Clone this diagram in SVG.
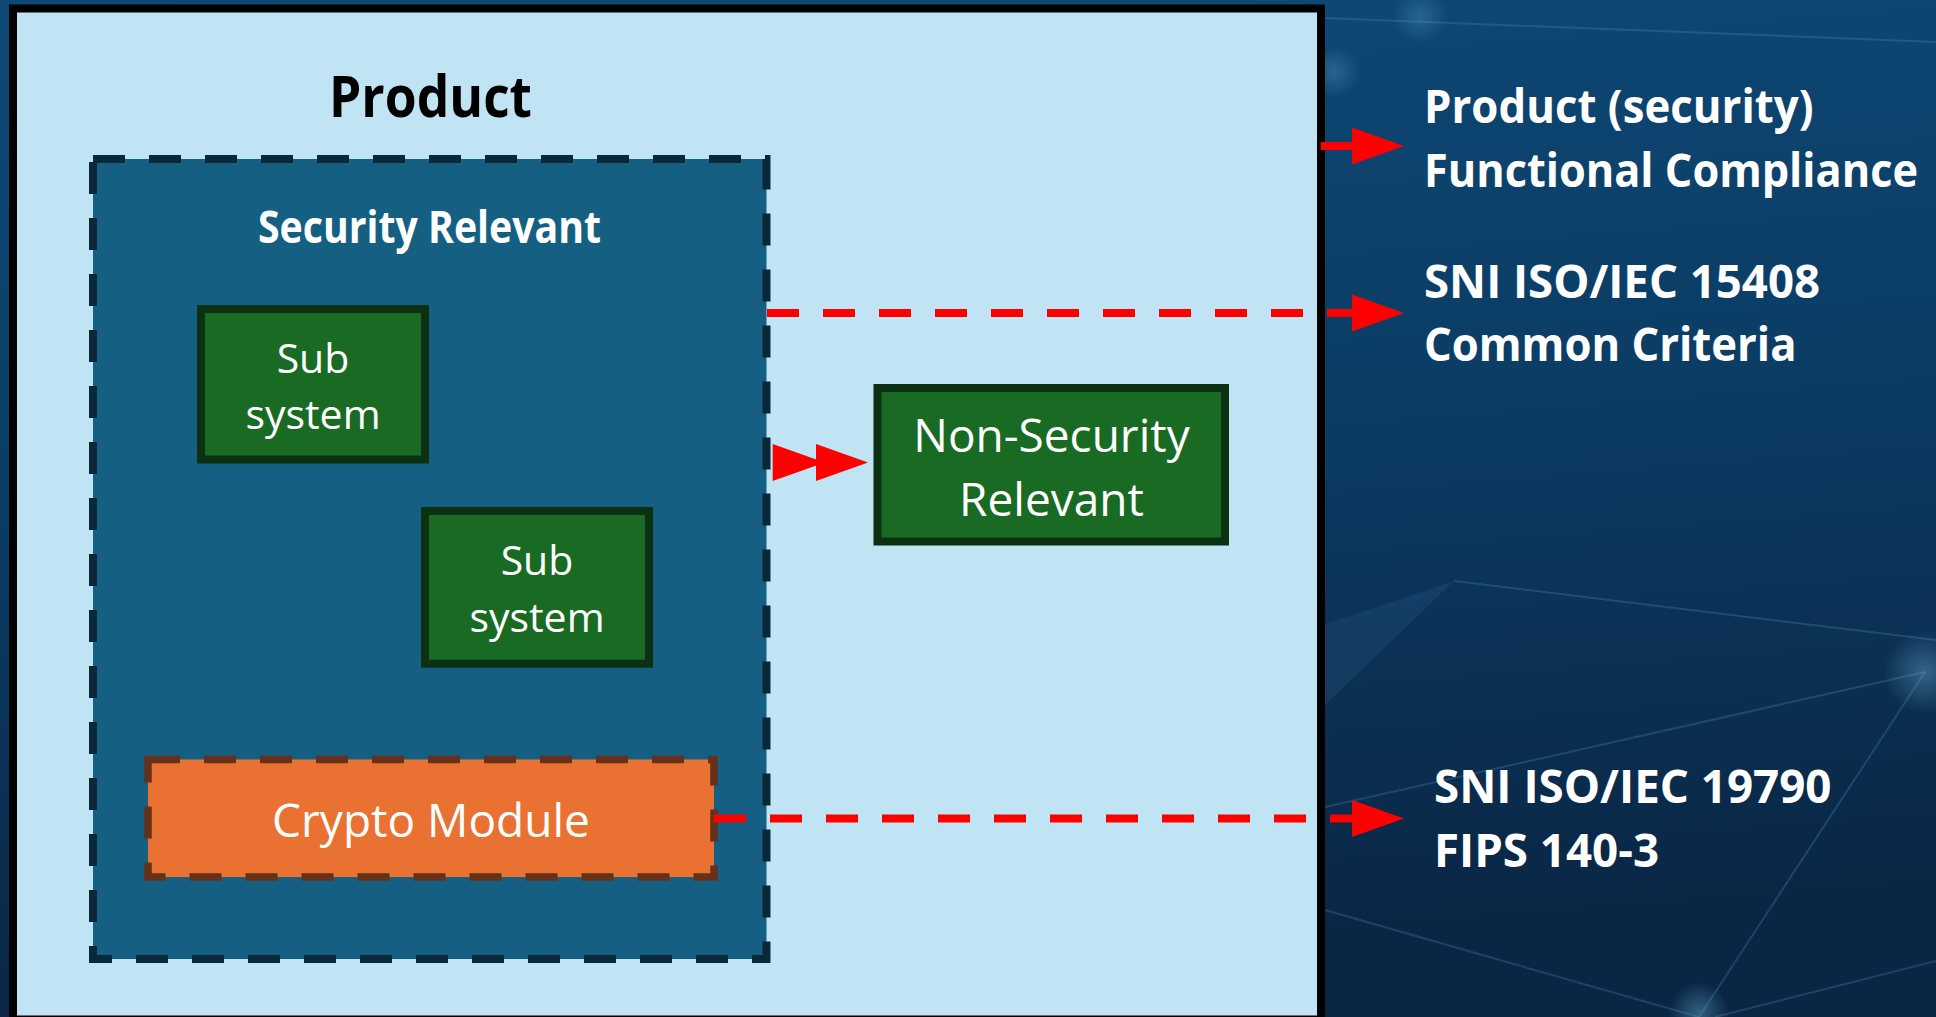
<svg xmlns="http://www.w3.org/2000/svg" width="1936" height="1017" viewBox="0 0 1936 1017">
  <defs>
    <linearGradient id="bg" x1="0" y1="0" x2="0.15" y2="1">
      <stop offset="0" stop-color="#0e4a77"/>
      <stop offset="0.5" stop-color="#0b3c64"/>
      <stop offset="1" stop-color="#0a2645"/>
    </linearGradient>
    <radialGradient id="glow">
      <stop offset="0" stop-color="#6fb4d8" stop-opacity="0.4"/>
      <stop offset="1" stop-color="#6fb4d8" stop-opacity="0"/>
    </radialGradient>
    <marker id="head" markerUnits="userSpaceOnUse" markerWidth="52" markerHeight="37" refX="0" refY="18.5" orient="auto" overflow="visible">
      <path d="M0 0 L52 18.5 L0 37 Z" fill="#ff0000"/>
    </marker>
    <style>
      .frame { fill: #c1e4f5; stroke: #000; stroke-width: 8; }
      .zone { fill: #156082; stroke: #0a2838; stroke-width: 8; stroke-dasharray: 32 24; }
      .crypto { fill: #e97132; stroke: #66301a; stroke-width: 7.5; stroke-dasharray: 32 24; }
      .block { fill: #196b24; stroke: #0c3012; stroke-width: 8; }
      .wire { fill: none; stroke: #ff0000; stroke-width: 8; marker-end: url(#head); }
      .dashed { stroke-dasharray: 32 24; }
      .net { stroke: #5d9cc6; stroke-width: 2; opacity: 0.25; fill: none; }
      text { font-family: "Open Sans", "Noto Sans", "Liberation Sans", sans-serif; }
      .lbl { fill: #fff; font-size: 46px; text-anchor: middle; }
      .sub { fill: #fff; font-size: 41px; text-anchor: middle; }
      .hd { font-weight: 700; text-anchor: middle; }
      .std { fill: #fff; font-weight: 700; font-size: 46px; }
    </style>
  </defs>

  <!-- backdrop: dark blue field with a faint network pattern -->
  <g id="backdrop">
    <rect x="0" y="0" width="1936" height="1017" fill="url(#bg)"/>
    <polygon points="1325,624 1454,581 1325,705" fill="#4f8fba" opacity="0.12"/>
    <line class="net" x1="1454" y1="581" x2="1936" y2="640" opacity="0.15"/>
    <line class="net" x1="1325" y1="807" x2="1925" y2="672"/>
    <line class="net" x1="1925" y1="672" x2="1699" y2="1017"/>
    <line class="net" x1="1325" y1="910" x2="1699" y2="1017"/>
    <line class="net" x1="1715" y1="1017" x2="1936" y2="961"/>
    <line class="net" x1="1325" y1="18" x2="1936" y2="42" opacity="0.15"/>
    <circle cx="1925" cy="672" r="42" fill="url(#glow)"/>
    <circle cx="1699" cy="1012" r="30" fill="url(#glow)"/>
    <circle cx="1420" cy="16" r="28" fill="url(#glow)" opacity="0.7"/>
    <circle cx="1334" cy="72" r="26" fill="url(#glow)" opacity="0.7"/>
  </g>

  <!-- product boundary -->
  <g id="product">
    <rect class="frame" x="13" y="8.5" width="1308" height="1011"/>
    <text class="hd" x="430.5" y="117" font-size="57" fill="#000" textLength="203" lengthAdjust="spacingAndGlyphs">Product</text>
  </g>

  <g id="security-relevant">
    <rect class="zone" x="93" y="159" width="673.5" height="800"/>
    <text class="hd" x="429.5" y="242.5" font-size="44" fill="#fff" textLength="343" lengthAdjust="spacingAndGlyphs">Security Relevant</text>
  </g>

  <g id="subsystem-1">
    <rect class="block" x="201" y="309" width="224" height="150.5"/>
    <text class="sub" x="313" y="372.5">Sub</text>
    <text class="sub" x="313" y="429.3">system</text>
  </g>

  <g id="subsystem-2">
    <rect class="block" x="425" y="511" width="224" height="152.7"/>
    <text class="sub" x="537" y="575">Sub</text>
    <text class="sub" x="537" y="631.7">system</text>
  </g>

  <g id="crypto-module">
    <rect class="crypto" x="148" y="759.5" width="566" height="117.5"/>
    <text class="lbl" x="431" y="837">Crypto Module</text>
  </g>

  <g id="non-security-relevant">
    <rect class="block" x="877.5" y="388" width="347.5" height="153.5"/>
    <text class="lbl" x="1051.5" y="451.7">Non-Security</text>
    <text class="lbl" x="1051.5" y="515.7">Relevant</text>
  </g>

  <!-- connectors -->
  <g id="connectors">
    <path class="wire" d="M1320.7 146 H1352"/>
    <path class="wire dashed" d="M767 313 H1352"/>
    <path d="M772.7 462.5 H816" fill="none" stroke="none" marker-start="url(#head)" marker-end="url(#head)"/>
    <path class="wire dashed" d="M714 818.5 H1352"/>
  </g>

  <!-- standards / compliance labels -->
  <g id="label-functional">
    <text class="std" x="1424" y="122.7" textLength="389.5" lengthAdjust="spacingAndGlyphs">Product (security)</text>
    <text class="std" x="1424" y="186.7" font-size="44" textLength="494" lengthAdjust="spacingAndGlyphs">Functional Compliance</text>
  </g>
  <g id="label-15408">
    <text class="std" x="1424" y="297.7" textLength="396" lengthAdjust="spacingAndGlyphs">SNI ISO/IEC 15408</text>
    <text class="std" x="1424" y="361" textLength="372.5" lengthAdjust="spacingAndGlyphs">Common Criteria</text>
  </g>
  <g id="label-19790">
    <text class="std" x="1434" y="803.3" textLength="397.5" lengthAdjust="spacingAndGlyphs">SNI ISO/IEC 19790</text>
    <text class="std" x="1434" y="866.7" textLength="225" lengthAdjust="spacingAndGlyphs">FIPS 140-3</text>
  </g>
</svg>
